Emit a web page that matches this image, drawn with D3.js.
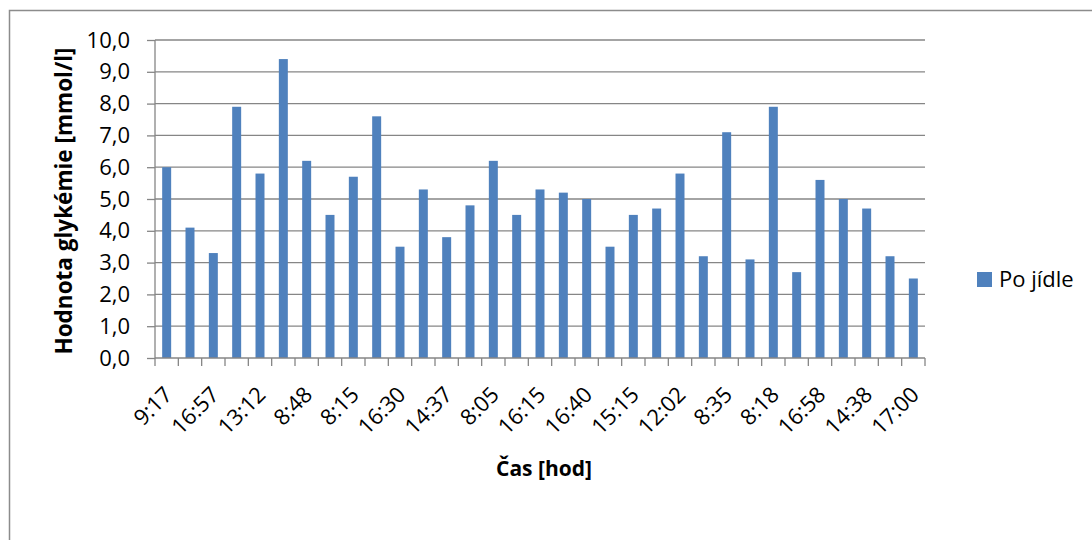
<!DOCTYPE html>
<html>
<head>
<meta charset="utf-8">
<script src="https://cdn.jsdelivr.net/npm/d3@7"></script>
<style>
  html, body { margin: 0; padding: 0; background: #fff; }
  svg { display: block; font-family: "Open Sans", Lato, sans-serif; }
</style>
</head>
<body>
<svg id="chart" width="1092" height="540"></svg>
<script>
// Glycaemia after meals, one bar per measurement
const values = [6.0, 4.1, 3.3, 7.9, 5.8, 9.4, 6.2, 4.5, 5.7, 7.6, 3.5, 5.3, 3.8, 4.8, 6.2, 4.5,
                5.3, 5.2, 5.0, 3.5, 4.5, 4.7, 5.8, 3.2, 7.1, 3.1, 7.9, 2.7, 5.6, 5.0, 4.7, 3.2, 2.5];
// Time labels; only every other measurement carries a printed label
const timeLabels = ["9:17", "", "16:57", "", "13:12", "", "8:48", "", "8:15", "", "16:30", "",
                    "14:37", "", "8:05", "", "16:15", "", "16:40", "", "15:15", "", "12:02", "",
                    "8:35", "", "8:18", "", "16:58", "", "14:38", "", "17:00"];
const yTicks = [0, 1, 2, 3, 4, 5, 6, 7, 8, 9, 10];
const seriesName = "Po jídle";
const xTitle = "Čas [hod]";
const yTitle = "Hodnota glykémie [mmol/l]";

const svg = d3.select("#chart");
const plot = { left: 155, right: 925, top: 40, bottom: 358 };
const barColor = "#4f81bd";
const gridColor = "#868686";
const fontFamily = "'Open Sans', Lato, sans-serif";

// Outer chart frame
svg.append("rect")
  .attr("x", 9.5).attr("y", 10.5)
  .attr("width", 1100).attr("height", 560)
  .attr("fill", "none").attr("stroke", "#8c8c8c").attr("stroke-width", 1.5);

const x = d3.scaleBand()
  .domain(d3.range(values.length))
  .range([plot.left, plot.right])
  .paddingInner(0.615).paddingOuter(0.3075);

const y = d3.scaleLinear().domain([0, 10]).range([plot.bottom, plot.top]);

// Horizontal gridlines
svg.append("g")
  .selectAll("line")
  .data(yTicks.filter(d => d > 0))
  .join("line")
  .attr("x1", plot.left).attr("x2", plot.right)
  .attr("y1", d => y(d)).attr("y2", d => y(d))
  .attr("stroke", gridColor).attr("stroke-width", 1.3);

// Bars
svg.append("g")
  .selectAll("rect")
  .data(values)
  .join("rect")
  .attr("x", (d, i) => x(i))
  .attr("y", d => y(d))
  .attr("width", x.bandwidth())
  .attr("height", d => y(0) - y(d))
  .attr("fill", barColor);

// Y axis
const yAxis = svg.append("g")
  .attr("transform", `translate(${plot.left},0)`)
  .call(d3.axisLeft(y).tickValues(yTicks).tickSize(8).tickPadding(17)
    .tickFormat(d => d3.format(".1f")(d).replace(".", ",")));
yAxis.selectAll("line, path").attr("stroke", gridColor).attr("stroke-width", 1.3);
yAxis.select(".domain").attr("d", `M0,${plot.top}V${plot.bottom}`);
yAxis.selectAll("text").attr("font-size", 22).attr("fill", "#000")
  .attr("font-family", fontFamily);

// X axis: ticks at category boundaries, labels at the centres
const xAxisG = svg.append("g").attr("transform", `translate(0,${plot.bottom})`);
xAxisG.append("line")
  .attr("x1", plot.left).attr("x2", plot.right)
  .attr("stroke", gridColor).attr("stroke-width", 1.3);
const step = x.step();
xAxisG.selectAll("line.tick")
  .data(d3.range(values.length + 1))
  .join("line").attr("class", "tick")
  .attr("x1", i => plot.left + i * step).attr("x2", i => plot.left + i * step)
  .attr("y1", 0).attr("y2", 8)
  .attr("stroke", gridColor).attr("stroke-width", 1.3);
xAxisG.selectAll("text")
  .data(timeLabels.map((t, i) => ({ t, i })).filter(d => d.t))
  .join("text")
  .attr("transform", d => `translate(${x(d.i) + x.bandwidth() / 2 + 7},${38}) rotate(-45)`)
  .attr("text-anchor", "end")
  .attr("font-size", 22)
  .attr("fill", "#000")
  .text(d => d.t);

// Axis titles
svg.append("text")
  .attr("x", 544).attr("y", 476)
  .attr("text-anchor", "middle")
  .attr("font-size", 21).attr("font-weight", "bold")
  .text(xTitle);

svg.append("text")
  .attr("transform", `translate(72,201) rotate(-90)`)
  .attr("text-anchor", "middle")
  .attr("font-size", 22.5).attr("font-weight", "bold")
  .text(yTitle);

// Legend
const legend = svg.append("g").attr("transform", "translate(977,272)");
legend.append("rect").attr("width", 15).attr("height", 15).attr("fill", barColor);
legend.append("text")
  .attr("x", 22).attr("y", 15)
  .attr("font-size", 22).attr("fill", "#000")
  .text(seriesName);
</script>
</body>
</html>
